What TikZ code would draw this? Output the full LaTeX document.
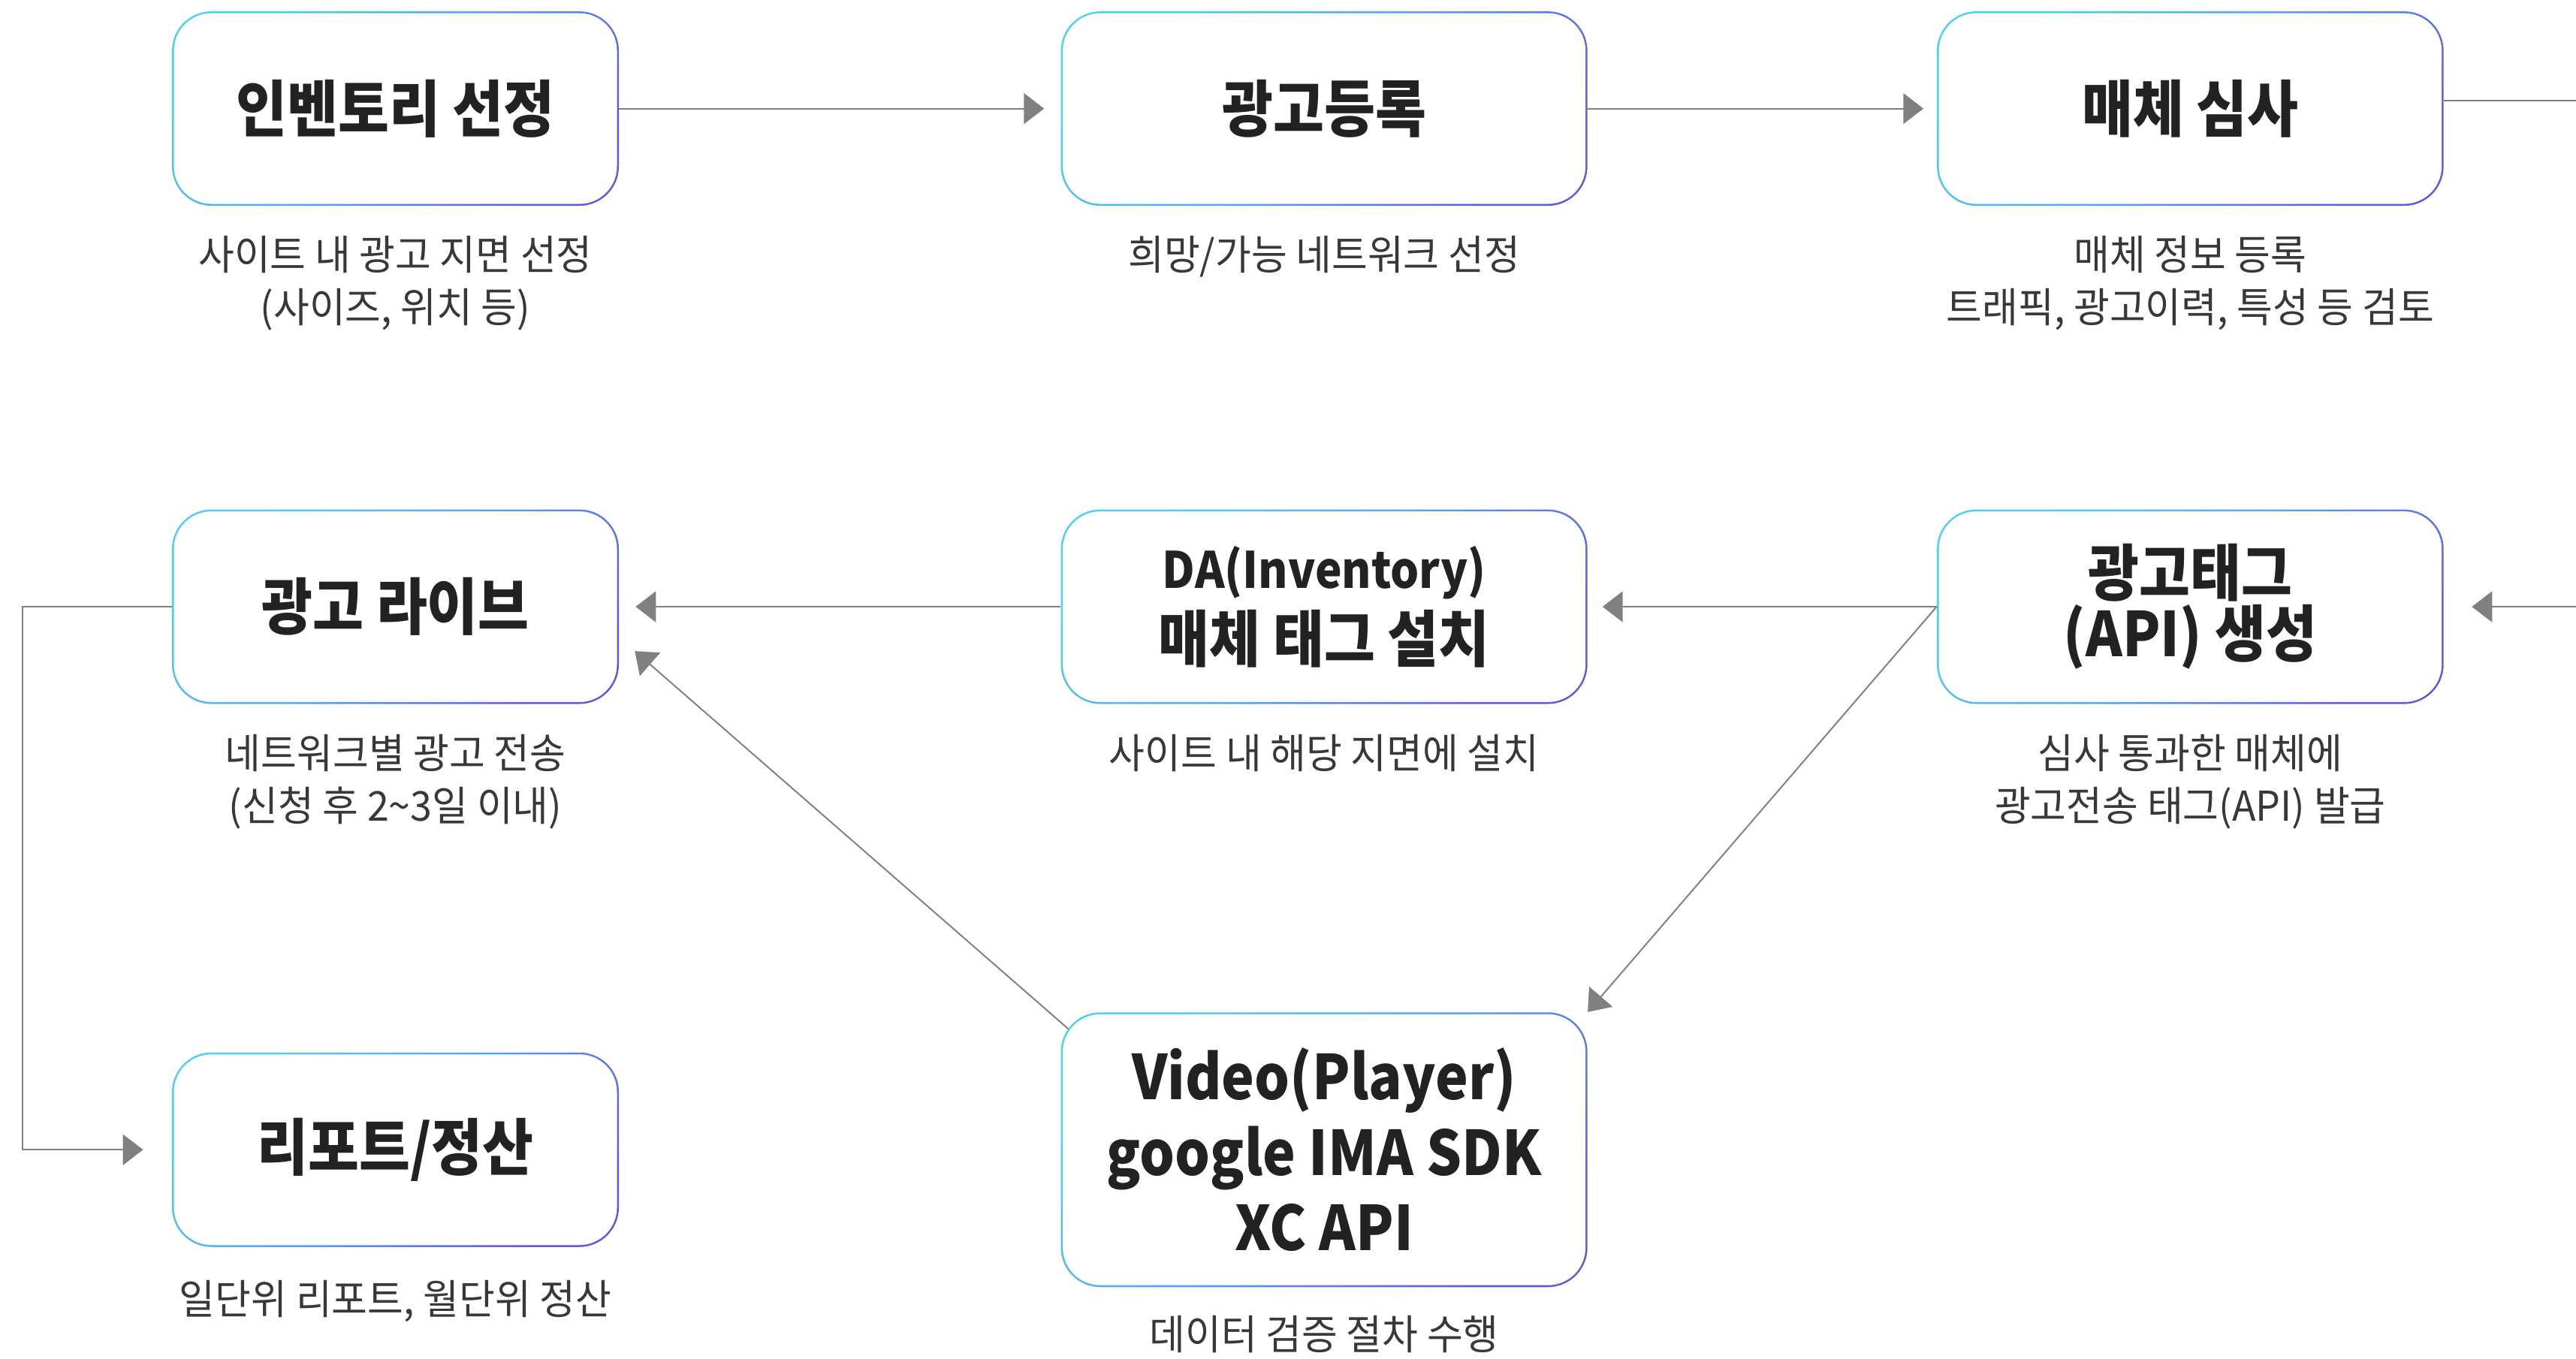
\documentclass[tikz,border=0pt]{standalone}
\usepackage{fontspec}
\setmainfont{Noto Sans CJK KR}[FakeStretch=0.9]
\newfontfamily\capfont{Noto Sans CJK KR}[FakeStretch=0.95]
\usetikzlibrary{arrows.meta,positioning,backgrounds,calc}

\definecolor{edgecyan}{RGB}{76,208,242}
\definecolor{edgeblue}{RGB}{88,160,245}
\definecolor{edgeviolet}{RGB}{92,90,220}
\definecolor{titleink}{RGB}{34,34,34}
\definecolor{capink}{RGB}{56,56,56}
\definecolor{flowgray}{RGB}{128,128,128}

\tikzset{
  stage/.style={rounded corners=24pt, minimum width=272pt, minimum height=118.4pt,
    inner sep=0pt, align=center, text=titleink,
    font=\bfseries\fontsize{37.5}{44}\selectfont,
    path picture={
      \shade[top color=edgecyan, bottom color=edgeviolet, middle color=edgeblue, shading angle=45]
        (path picture bounding box.south west) rectangle (path picture bounding box.north east);
      \fill[white, rounded corners=22.9pt]
        ([shift={(1.15pt,1.15pt)}]path picture bounding box.south west) rectangle
        ([shift={(-1.15pt,-1.15pt)}]path picture bounding box.north east);}},
  capt/.style={align=center, inner sep=0pt, text=capink,
    font=\capfont\fontsize{25}{32}\selectfont},
  flow/.style={draw=flowgray, line width=0.9pt, -{Triangle[length=12.3pt,width=18.7pt]}},
}

\begin{document}
\begin{tikzpicture}[x=1pt,y=-1pt]
\useasboundingbox (0,0) rectangle (1568,827);

% boxes
\node[stage] at (240.7,66.1) (inv) {인벤토리 선정};
\node[stage,minimum width=320.5pt] at (806,66.1) (reg) {광고등록};
\node[stage,minimum width=308.4pt] at (1333.2,66.1) (rev) {매체 심사};

\node[stage] at (240.7,369.4) (live) {광고 라이브};
\node[stage,minimum width=320.5pt,font=\bfseries\fontsize{37.5}{45}\selectfont] at (806,369.4) (tag) {{\fontsize{30.5}{36}\selectfont DA(Inventory)}\\매체 태그 설치};
\node[stage,minimum width=308.4pt,font=\bfseries\fontsize{37.5}{37}\selectfont] at (1333.2,369.4) (api) {광고태그\\(API) 생성};

\node[stage] at (240.7,700) (report) {리포트/정산};
\node[stage,minimum width=320.5pt,minimum height=167.3pt,font=\bfseries\fontsize{37.5}{46}\selectfont] at (806,700) (video) {Video(Player)\\google IMA SDK\\XC API};

% captions
\node[capt,below=18pt of inv] (inv-c) {사이트 내 광고 지면 선정\\(사이즈, 위치 등)};
\node[capt,below=18pt of reg] (reg-c) {희망/가능 네트워크 선정};
\node[capt,below=18pt of rev] (rev-c) {매체 정보 등록\\트래픽, 광고이력, 특성 등 검토};
\node[capt,below=18pt of live] (live-c) {네트워크별 광고 전송\\(신청 후 2\textasciitilde3일 이내)};
\node[capt,below=18pt of tag] (tag-c) {사이트 내 해당 지면에 설치};
\node[capt,below=18pt of api] (api-c) {심사 통과한 매체에\\광고전송 태그(API) 발급};
\node[capt,below=20pt of report] (report-c) {일단위 리포트, 월단위 정산};
\node[capt,below=17pt of video] (video-c) {데이터 검증 절차 수행};

\coordinate (exit-r) at (1568,61.1);
\coordinate (entry-r) at (1568,369.4);

% connectors
\begin{scope}[on background layer]
\draw[flow,shorten >=10pt] (inv) -- (reg);
\draw[flow,shorten >=8pt] (reg) -- (rev);
\draw[flowgray,line width=0.9pt] ($(rev.east)+(0,-5)$) -- (exit-r);
\draw[flow,shorten >=17pt] (entry-r) -- (api.east);
\draw[flow,shorten >=9pt] (api.west) -- (tag.east);
\draw[flow,shorten >=10pt] (tag.west) -- (live.east);
\draw[flow] (api.west) -- (video.north east);
\draw[flow] ($(video.north west)+(11.5,16.2)$) -- ($(live.east)+(9.5,27)$);
\draw[flow,shorten >=17.4pt] (live.west) -- ++(-91,0) |- (report.west);
\end{scope}
\end{tikzpicture}
\end{document}
